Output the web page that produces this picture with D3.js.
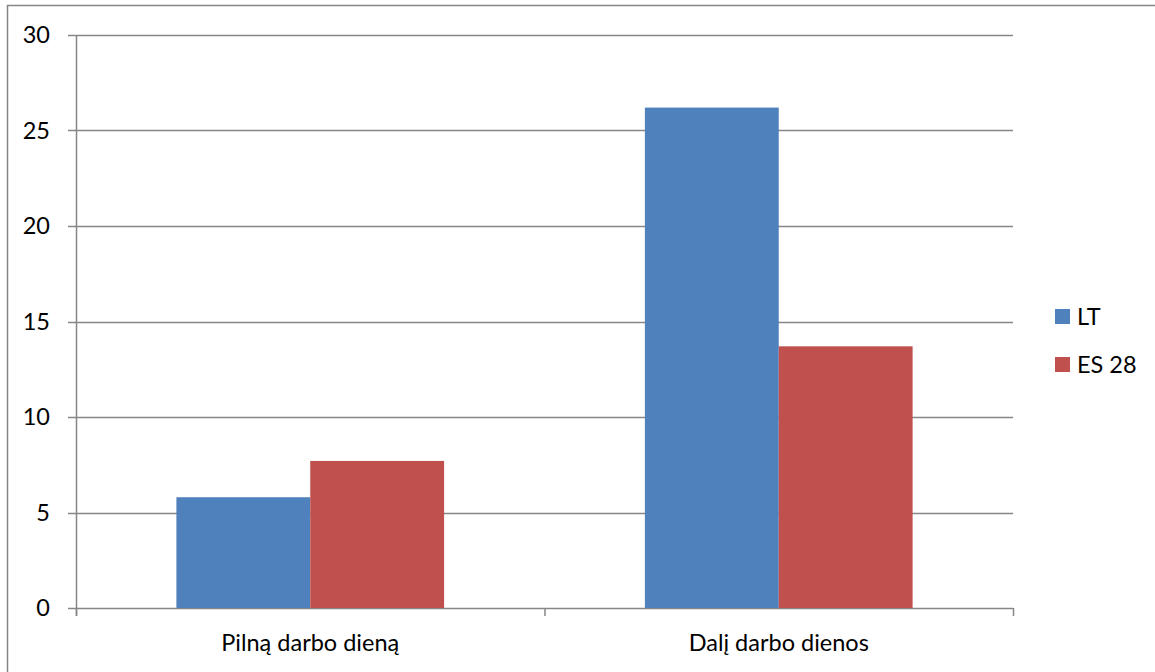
<!DOCTYPE html>
<html><head><meta charset="utf-8">
<script src="https://cdn.jsdelivr.net/npm/d3@7"></script>
<style>body{margin:0;background:#fff}svg{display:block}text{font-family:Lato,"Open Sans",sans-serif;fill:#000}</style>
</head><body>
<svg id="c" width="1155" height="672"></svg>
<script>
const categories = ["Pilną darbo dieną", "Dalį darbo dienos"];
const seriesNames = ["LT", "ES 28"];
const ltValues = [5.8, 26.2];
const esValues = [7.7, 13.7];
const yTicks = [0, 5, 10, 15, 20, 25, 30];
const colors = ["#4F81BD", "#C0504D"];

(function(){
const FS = 23.5;
const svg = d3.select("#c");
svg.append("rect").attr("x",7.5).attr("y",5.5).attr("width",1160).attr("height",680)
  .attr("fill","none").attr("stroke","#868686").attr("stroke-width",1.5);

const pl=76, pr=1013, pt=35, pb=608;
const x = d3.scaleBand().domain(categories).range([pl,pr]);
const y = d3.scaleLinear().domain([0,30]).range([pb,pt]);
const xs = d3.scaleBand().domain(seriesNames).range([0, x.bandwidth()]).paddingOuter(0.75).paddingInner(0);

svg.append("g").selectAll("line").data(yTicks).join("line")
  .attr("x1",pl-8).attr("x2",pr).attr("y1",d=>Math.round(y(d))+0.5).attr("y2",d=>Math.round(y(d))+0.5)
  .attr("stroke","#868686").attr("stroke-width",1.5);
svg.append("line").attr("x1",pl+0.5).attr("x2",pl+0.5).attr("y1",pt).attr("y2",pb+8)
  .attr("stroke","#868686").attr("stroke-width",1.5);
const xt = [pl, pl + x.bandwidth(), pr];
svg.append("g").selectAll("line").data(xt).join("line")
  .attr("x1",d=>d+0.5).attr("x2",d=>d+0.5).attr("y1",pb).attr("y2",pb+8)
  .attr("stroke","#868686").attr("stroke-width",1.5);

svg.append("g").selectAll("text").data(yTicks).join("text")
  .attr("x",50).attr("y",d=>y(d)+8).attr("text-anchor","end")
  .attr("font-size",FS).text(d=>d);

const data = [ltValues, esValues];
data.forEach((vals, si) => {
  svg.append("g").selectAll("rect").data(vals).join("rect")
    .attr("x",(d,i)=>x(categories[i]) + xs(seriesNames[si]))
    .attr("width",xs.bandwidth())
    .attr("y",d=>y(d)).attr("height",d=>pb - y(d))
    .attr("fill",colors[si]);
});

svg.append("g").selectAll("text").data(categories).join("text")
  .attr("x",d=>x(d)+x.bandwidth()/2).attr("y",651).attr("text-anchor","middle")
  .attr("font-size",FS).text(d=>d);

const lg = svg.append("g");
seriesNames.forEach((s,i)=>{
  const ly = 316.5 + i*48;
  lg.append("rect").attr("x",1055).attr("y",ly-7.5).attr("width",15).attr("height",15).attr("fill",colors[i]);
  lg.append("text").attr("x",1077).attr("y",ly+8.5).attr("font-size",FS).text(s);
});
})();
</script>
</body></html>
